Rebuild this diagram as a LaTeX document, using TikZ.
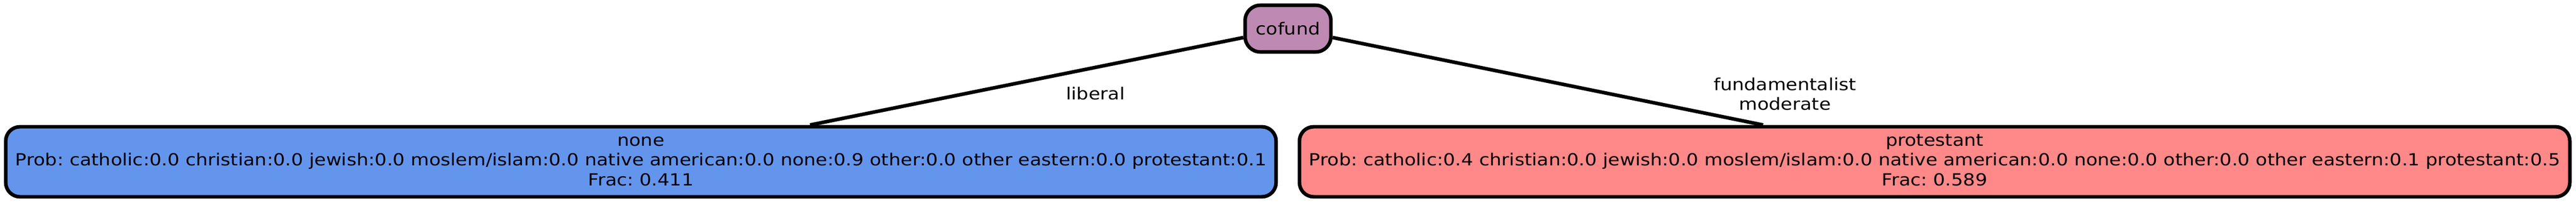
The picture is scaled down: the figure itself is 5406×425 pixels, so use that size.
\documentclass[tikz,border=0pt]{standalone}
\usepackage{fontspec}
\setmainfont{DejaVu Sans}[FakeStretch=1.131]
\usepackage{xcolor}
\usetikzlibrary{shapes}
\frenchspacing
\definecolor{splitcol}{HTML}{BE8AB3}
\definecolor{nonecol}{HTML}{6495ED}
\definecolor{protcol}{HTML}{FF8888}
\tikzstyle{split} = [
    rectangle,
    rounded corners=32pt,
    draw=black,
    line width=7.5pt,
    fill=splitcol,
    minimum width=180pt,
    minimum height=98pt,
    inner sep=0pt,
    text centered
]
\tikzstyle{leaf} = [
    rectangle,
    rounded corners=30pt,
    draw=black,
    line width=7.5pt,
    minimum width=2666pt,
    minimum height=147pt,
    inner sep=0pt,
    align=center
]
\tikzstyle{branch} = [
    draw=black,
    line width=7.5pt
]
\tikzstyle{cond} = [
    inner sep=0pt,
    align=center
]
\newcommand{\leafinfo}[3]{\strut #1\\Prob: #2\\Frac: #3\strut}

\begin{document}
\begin{tikzpicture}[x=1pt, y=-1pt, font=\fontsize{35}{41.5}\selectfont]
            \useasboundingbox (0,0) rectangle (5406,425);
            \node[split] (cofund) at (2703,60) {cofund};
            \node[leaf, fill=nonecol] (none) at (1345,339.5) {\leafinfo{none}{catholic:0.0 christian:0.0 jewish:0.0 moslem/islam:0.0 native american:0.0 none:0.9 other:0.0 other eastern:0.0 protestant:0.1}{0.411}};
            \node[leaf, fill=protcol] (protestant) at (4060,339.5) {\leafinfo{protestant}{catholic:0.4 christian:0.0 jewish:0.0 moslem/islam:0.0 native american:0.0 none:0.0 other:0.0 other eastern:0.1 protestant:0.5}{0.589}};

            \draw[branch] (cofund) -- ([xshift=355pt]none.north);
            \draw[branch] (cofund) -- ([xshift=-360pt]protestant.north);

            \node[cond] (liberal) at (2299,196.7) {liberal};
            \node[cond] (fundmod) at (3746,197.5) {fundamentalist\\moderate};
        \end{tikzpicture}
\end{document}
